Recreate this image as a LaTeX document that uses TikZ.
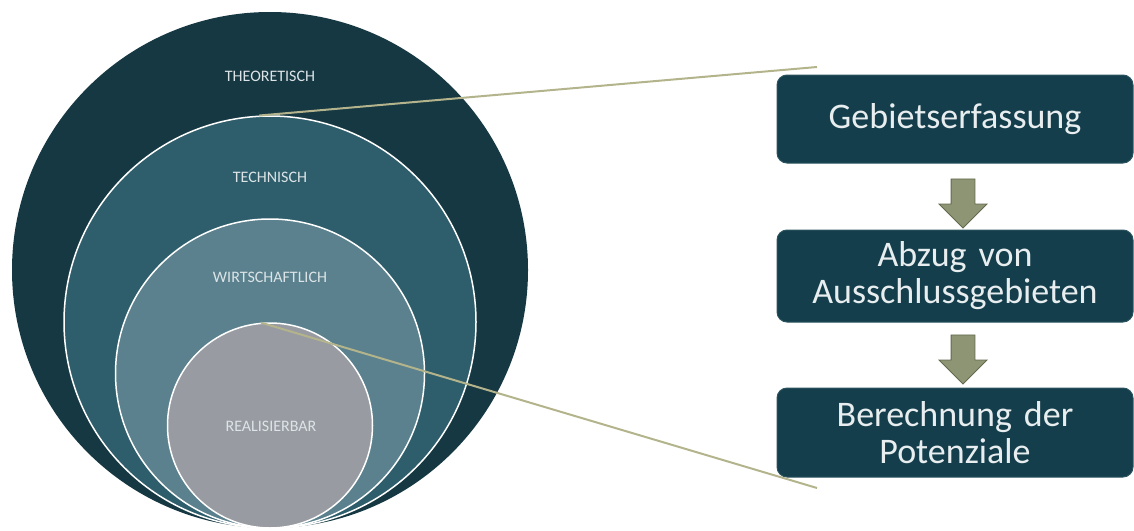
\documentclass[tikz,border=0pt]{standalone}
\usepackage{fontspec}
\setmainfont{Carlito}
\usetikzlibrary{shapes.arrows}
\definecolor{theocol}{RGB}{22,56,66}
\definecolor{techcol}{RGB}{46,94,107}
\definecolor{wirtcol}{RGB}{90,129,141}
\definecolor{realcol}{RGB}{152,155,161}
\definecolor{labgray}{RGB}{220,228,231}
\definecolor{boxcol}{RGB}{20,62,75}
\definecolor{boxedge}{RGB}{44,84,96}
\definecolor{boxtext}{RGB}{232,238,240}
\definecolor{arrowcol}{RGB}{141,149,116}
\definecolor{arrowedge}{RGB}{98,106,78}
\definecolor{linkcol}{RGB}{180,180,140}
\begin{document}
\begin{tikzpicture}[x=1pt, y=-1pt,
  ring/.style={circle, draw=white, line width=1.5pt, inner sep=0pt},
  lab/.style={text=labgray, font=\fontsize{16}{19}\selectfont},
  stepbox/.style={rectangle, rounded corners=10pt, fill=boxcol, draw=boxedge, line width=1pt, minimum width=356pt, text width=340pt, align=center, text=boxtext, font=\fontsize{36}{37}\selectfont},
  down/.style={single arrow, shape border rotate=270, fill=arrowcol, draw=arrowedge, line width=0.8pt, minimum height=49pt, minimum width=47pt, inner sep=11.5pt, single arrow head extend=12pt},
  link/.style={draw=linkcol, line width=2pt}]
 \useasboundingbox (0,0) rectangle (1134,530);
 % nested circles
 \node[circle, fill=theocol, minimum size=516pt, inner sep=0pt] (theo) at (270,270) {};
 \node[ring, fill=techcol, minimum size=412pt] (tech) at (270,322) {};
 \node[ring, fill=wirtcol, minimum size=309pt] (wirt) at (270,373.5) {};
 \node[ring, fill=realcol, minimum size=205pt] (real) at (270,425.5) {};
 \node[lab] (ltheo) at (270,76) {THEORETISCH};
 \node[lab] (ltech) at (270,177) {TECHNISCH};
 \node[lab] (lwirt) at (270,277) {WIRTSCHAFTLICH};
 \node[lab] (lreal) at (271,426) {REALISIERBAR};
 % steps
 \node[stepbox, minimum height=88pt] (gebiet) at (955,119) {Gebietserfassung};
 \node[stepbox, minimum height=92pt] (abzug) at (955,276) {Abzug von\\Ausschlussgebieten};
 \node[stepbox, minimum height=89pt] (berech) at (955,432.5) {Berechnung der\\Potenziale};
 \node[down] (arr1) at (963,197.5) {};
 \node[down] (arr2) at (963,353.5) {};
 % links
 \coordinate (topend) at (817,67);
 \coordinate (lowend) at (817,488);
 \draw[link] (tech.93) -- (topend);
 \draw[link] (real.95) -- (lowend);
\end{tikzpicture}
\end{document}
